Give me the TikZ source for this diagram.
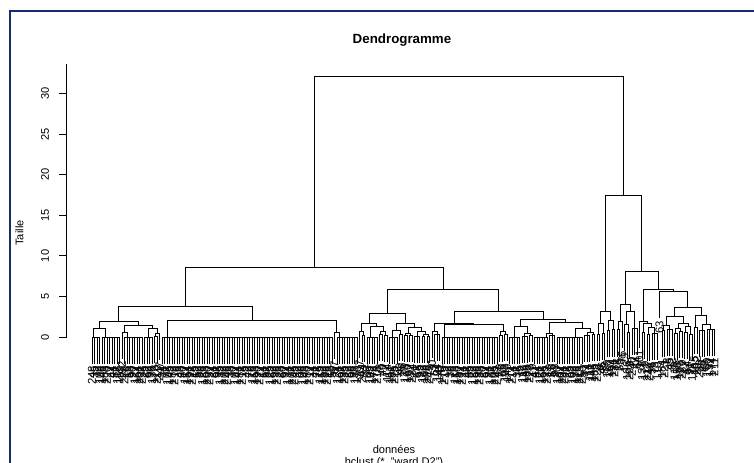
\documentclass[tikz,border=0pt]{standalone}
\usepackage{fontspec}
\setmainfont{Liberation Sans}
\definecolor{framecol}{RGB}{22,42,112}
\tikzset{
  dline/.style={line width=0.75pt, black, line cap=rect},
  lbl/.style={rotate=90, anchor=east, inner xsep=1.8pt, inner ysep=0pt, font=\fontsize{8.5}{9}\selectfont},
  axtxt/.style={inner sep=0pt, font=\fontsize{8.3}{10}\selectfont},
}
% leaf: index, top height
\newcommand\dlf[2]{%
  \pgfmathsetmacro\lx{92+2.5*(#1-1)}%
  \pgfmathtruncatemacro\lt{#1==213 ? 76 : (#1==228 ? 63 : mod(37*#1+210,250)+1)}%
  \draw[dline] (\lx,#2) -- (\lx,#2-3.21) node[lbl] (leaf#1) {\lt};%
}
% comb of leaves: first index, last index, height
\newcommand\dcb[3]{%
  \foreach \k in {#1,...,#2}{\dlf{\k}{#3}}%
  \draw[dline] ({92+2.5*(#1-1)},#3) -- ({92+2.5*(#2-1)},#3);%
}
% link: xl, hl, xr, hr, H
\newcommand\dlk[5]{\draw[dline] (#1,#2) -- (#1,#5) -- (#3,#5) -- (#3,#4);}
\begin{document}
\begin{tikzpicture}[x=0.75pt,y=-0.75pt]
\useasboundingbox (0,0) rectangle (754,463);
\fill[white] (0,0) rectangle (754,463);
\draw[framecol, line width=1.6pt] (10,470) -- (10,10.8) -- (760,10.8);
\node[font=\bfseries\fontsize{10}{12}\selectfont, anchor=base, inner sep=0pt] (title) at (402,43.2) {Dendrogramme};
\node[axtxt, anchor=base] (xlab) at (394,453.3) {données};
\node[axtxt, anchor=base] (sub) at (394,465.5) {hclust (*, "ward.D2")};
\node[axtxt, rotate=90] (ylab) at (19.5,233) {Taille};
\begin{scope}[shift={(0,337.3)}, y=6.0975pt]
  % axis
  \draw[dline, line cap=butt] (66.7,0) -- (66.7,33.6);
  \foreach \t in {0,5,...,30}{
    \draw[dline, line cap=butt] (66.7,\t) -- (58.7,\t);
    \node[axtxt, rotate=90] (tk\t) at (45,\t) {\t};
  }
  % ---------- LA1
  \dcb{1}{4}{0.03}  \dcb{5}{12}{0.03}
  \dlk{93.3}{0.03}{105}{0.03}{1.1}
  \dlf{13}{0.57}    \dcb{14}{21}{0.03}
  \dlk{122}{0.57}{127}{0.03}{0.57}
  \dcb{22}{25}{0.03} \dcb{26}{27}{0.1} \dlf{28}{0.5}
  \dlk{155.75}{0.1}{159.5}{0.5}{0.5}
  \dlk{148}{0.03}{157.6}{0.5}{1.1}
  \dlk{124.5}{0.57}{152.8}{1.1}{1.43}
  \dlk{99.15}{1.1}{138.65}{1.43}{1.92}
  % ---------- LA2
  \dcb{29}{97}{0.02} \dlf{98}{0.6} \dcb{99}{107}{0.03}
  \dlk{334.5}{0.6}{339.3}{0.03}{0.6}
  \dlk{167.3}{0.02}{336.9}{0.6}{2.04}
  \dlk{118.9}{1.92}{252.1}{2.04}{3.76}
  % ---------- LB1
  \dlf{108}{0.7} \dcb{109}{110}{0.2}
  \dlk{359.5}{0.7}{363.25}{0.2}{0.7}
  \dcb{111}{115}{0.03} \dcb{116}{117}{0.3} \dcb{118}{119}{0.2}
  \dlk{380.75}{0.3}{385.75}{0.2}{0.7}
  \dlk{370}{0.03}{383.25}{0.7}{1.3}
  \dlk{361.4}{0.7}{376.6}{1.3}{1.72}
  \dcb{120}{123}{0.03} \dcb{124}{125}{0.4}
  \dlk{392.5}{0.03}{400.75}{0.4}{0.8}
  \dcb{126}{127}{0.2} \dcb{128}{129}{0.25}
  \dlk{405.75}{0.2}{410.75}{0.25}{0.5}
  \dcb{130}{132}{0.1} \dcb{133}{134}{0.15} \dcb{135}{136}{0.1}
  \dlk{423.25}{0.15}{428.25}{0.1}{0.35}
  \dlk{417}{0.1}{425.75}{0.35}{0.7}
  \dlk{408.25}{0.5}{421.4}{0.7}{1.2}
  \dlk{396.6}{0.8}{414.8}{1.2}{1.75}
  \dlk{369}{1.72}{405.7}{1.75}{2.87}
  % ---------- LB2
  \dlf{137}{0.76} \dcb{138}{140}{0.3}
  \dlk{432}{0.76}{437}{0.3}{0.76}
  \dcb{141}{163}{0.02} \dcb{164}{165}{0.2} \dcb{166}{167}{0.3}
  \dlk{500.75}{0.2}{505.75}{0.3}{0.77}
  \dlk{444}{0.02}{503.25}{0.77}{1.55}
  \dlk{434.5}{0.76}{473.6}{1.55}{1.72}
  \dcb{168}{172}{0.03} \dcb{173}{175}{0.15} \dcb{176}{177}{0.2}
  \dlk{524.5}{0.15}{530.75}{0.2}{0.5}
  \dlk{514}{0.03}{527.6}{0.5}{1.3}
  \dcb{178}{183}{0.03} \dcb{184}{186}{0.2}
  \dlk{546}{0.03}{552}{0.2}{0.5}
  \dcb{187}{197}{0.03} \dcb{198}{200}{0.2} \dcb{201}{202}{0.3}
  \dlk{587}{0.2}{593.25}{0.3}{0.6}
  \dlk{575.75}{0.03}{590.1}{0.6}{1.1}
  \dlk{549}{0.5}{582.9}{1.1}{1.8}
  \dlk{520.8}{1.3}{565.95}{1.8}{2.2}
  \dlk{454.05}{1.72}{543.4}{2.2}{3.15}
  \dlk{387.35}{2.87}{498.7}{3.15}{5.9}
  \dlk{185.5}{3.76}{443}{5.9}{8.6}
  % ---------- R1
  \dcb{203}{204}{0.3} \dcb{205}{206}{0.5}
  \dlk{598.25}{0.3}{603.25}{0.5}{1.72}
  \dcb{207}{208}{0.8} \dcb{209}{210}{0.9}
  \dlk{608.25}{0.8}{613.25}{0.9}{2.1}
  \dlk{600.75}{1.72}{610.75}{2.1}{3.15}
  % ---------- R2a
  \dcb{211}{212}{0.9} \dlf{213}{1.9}
  \dlk{618.25}{0.9}{622}{1.9}{1.9}
  \dlf{214}{1.6} \dcb{215}{216}{0.6}
  \dlk{624.5}{1.6}{628.25}{0.6}{1.6}
  \dcb{217}{219}{1.1}
  \dlk{626.4}{1.6}{634.5}{1.1}{3.2}
  \dlk{620.1}{1.9}{630.45}{3.2}{4.05}
  % ---------- R2b
  \dlf{220}{2.0} \dcb{221}{222}{0.6} \dcb{223}{224}{0.4} \dcb{225}{227}{0.5}
  \dlk{648.25}{0.4}{654.5}{0.5}{1.2}
  \dlk{643.25}{0.6}{651.4}{1.2}{1.72}
  \dlk{639.5}{2.0}{647.3}{1.72}{2.0}
  \dlf{228}{5.6}
  \dcb{229}{230}{0.8} \dcb{231}{233}{1.0}
  \dlk{663.25}{0.8}{669.5}{1.0}{1.5}
  \dcb{234}{235}{0.5} \dcb{236}{237}{0.7}
  \dlk{675.75}{0.5}{680.75}{0.7}{1.1}
  \dcb{238}{239}{0.6} \dcb{240}{241}{0.4}
  \dlk{685.75}{0.6}{690.75}{0.4}{1.3}
  \dlk{678.25}{1.1}{688.25}{1.3}{1.72}
  \dlk{666.4}{1.5}{683.25}{1.72}{2.6}
  \dcb{242}{243}{1.2} \dcb{244}{246}{0.8} \dcb{247}{250}{1.0}
  \dlk{702}{0.8}{710.75}{1.0}{1.6}
  \dlk{695.75}{1.2}{706.4}{1.6}{2.7}
  \dlk{674.8}{2.6}{701.1}{2.7}{3.7}
  \dlk{659.5}{5.6}{687.95}{3.7}{5.6}
  \dlk{643.4}{2.0}{673.7}{5.6}{5.9}
  \dlk{625.3}{4.05}{658.55}{5.9}{8.15}
  \dlk{605.75}{3.15}{641.9}{8.15}{17.5}
  % ---------- root
  \dlk{314.25}{8.6}{623.8}{17.5}{32.1}
\end{scope}
\end{tikzpicture}
\end{document}
